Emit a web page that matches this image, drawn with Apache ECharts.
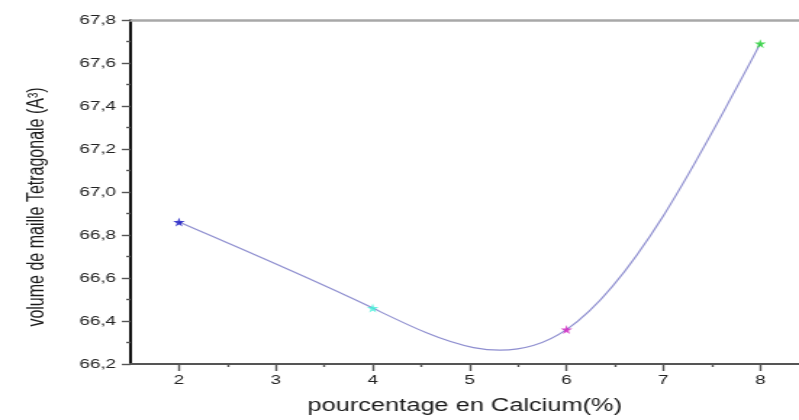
<!DOCTYPE html>
<html>
<head>
<meta charset="utf-8">
<script src="https://cdn.jsdelivr.net/npm/echarts@6/dist/echarts.min.js"></script>
<style>
  html, body { margin: 0; padding: 0; background: #fff; overflow: hidden; }
  /* the figure is laid out narrow and widened horizontally */
  #chart { width: 551px; height: 420px; transform: scaleX(1.4501); transform-origin: 0 0; }
</style>
</head>
<body>
<div id="chart"></div>
<script>
// Calcium content (%) and tetragonal cell volume (Å³)
const calcium = [2, 4, 6, 8];
const volume = [66.86, 66.46, 66.36, 67.69];
const xTicks = [2, 3, 4, 5, 6, 7, 8];
const xMinorTicks = [2.5, 3.5, 4.5, 5.5, 6.5, 7.5];

const markerColors = ['#1010c0', '#40f0d8', '#d020c0', '#20d030'];
const star = 'path://M50,0 L61,35 L98,35 L68,57 L79,91 L50,70 L21,91 L32,57 L2,35 L39,35 Z';
const comma = v => v.toFixed(1).replace('.', ',');
const font = 'Liberation Sans, Arial, sans-serif';

// Natural cubic spline through the measured points: second derivatives M,
// then end slopes of every segment so each piece is an exact cubic Bezier.
function splineSegments(xs, ys) {
  const n = xs.length;
  const h = [];
  for (let i = 0; i < n - 1; i++) h.push(xs[i + 1] - xs[i]);
  const M = new Array(n).fill(0);
  const m = n - 2;
  if (m > 0) {
    const a = [], b = [], c = [], r = [];
    for (let i = 1; i <= m; i++) {
      a.push(h[i - 1]);
      b.push(2 * (h[i - 1] + h[i]));
      c.push(h[i]);
      r.push(6 * ((ys[i + 1] - ys[i]) / h[i] - (ys[i] - ys[i - 1]) / h[i - 1]));
    }
    for (let i = 1; i < m; i++) {
      const w = a[i] / b[i - 1];
      b[i] -= w * c[i - 1];
      r[i] -= w * r[i - 1];
    }
    M[m] = r[m - 1] / b[m - 1];
    for (let i = m - 1; i >= 1; i--) M[i] = (r[i - 1] - c[i - 1] * M[i + 1]) / b[i - 1];
  }
  const segs = [];
  for (let i = 0; i < n - 1; i++) {
    const slope = (ys[i + 1] - ys[i]) / h[i];
    const d0 = slope - h[i] * (2 * M[i] + M[i + 1]) / 6;
    const d1 = slope + h[i] * (M[i] + 2 * M[i + 1]) / 6;
    segs.push({
      p0: [xs[i], ys[i]],
      c1: [xs[i] + h[i] / 3, ys[i] + d0 * h[i] / 3],
      c2: [xs[i + 1] - h[i] / 3, ys[i + 1] - d1 * h[i] / 3],
      p1: [xs[i + 1], ys[i + 1]]
    });
  }
  return segs;
}

const segments = splineSegments(calcium, volume);

const chart = echarts.init(document.getElementById('chart'), null, { renderer: 'canvas' });

const points = calcium.map((c, i) => ({
  value: [c, volume[i]],
  itemStyle: { color: markerColors[i] }
}));

const X_MIN = 1.5, X_MAX = 8.4;

chart.setOption({
  animation: false,
  backgroundColor: '#fff',
  grid: { left: 90, top: 20, right: 0, bottom: 51 },
  xAxis: [{
    type: 'value', min: X_MIN, max: X_MAX,
    name: 'pourcentage en Calcium(%)', nameLocation: 'middle', nameGap: 33,
    nameTextStyle: { fontFamily: font, fontSize: 17.5, color: '#1a1a1a' },
    axisLine: { show: true, onZero: false, lineStyle: { color: '#555', width: 2 } },
    axisTick: { show: true, length: 7, customValues: xTicks, lineStyle: { color: '#555', width: 1.4 } },
    axisLabel: { customValues: xTicks, fontFamily: font, fontSize: 13, color: '#222', margin: 10 },
    splitLine: { show: false }
  }, {
    type: 'value', min: X_MIN, max: X_MAX, position: 'bottom',
    axisLine: { show: false },
    axisTick: { show: true, length: 3, customValues: xMinorTicks, lineStyle: { color: '#555', width: 1.4 } },
    axisLabel: { show: false },
    splitLine: { show: false }
  }, {
    type: 'value', min: X_MIN, max: X_MAX, position: 'top',
    axisLine: { show: true, onZero: false, lineStyle: { color: '#a8a8a8', width: 2.5 } },
    axisTick: { show: false },
    axisLabel: { show: false },
    splitLine: { show: false }
  }],
  yAxis: {
    type: 'value', min: 66.2, max: 67.8, interval: 0.2,
    name: 'volume de maille Tetragonale (A³)', nameLocation: 'middle', nameGap: 56, nameRotate: 90,
    nameTextStyle: { fontFamily: font, fontSize: 16, color: '#1a1a1a', padding: [0, 30, 0, 0] },
    axisLine: { show: true, onZero: false, lineStyle: { color: '#111', width: 2 } },
    axisTick: { show: true, length: 6, lineStyle: { color: '#555', width: 1.4 } },
    minorTick: { show: true, splitNumber: 2, length: 3, lineStyle: { color: '#555', width: 1.4 } },
    axisLabel: { formatter: comma, fontFamily: font, fontSize: 13, color: '#222', margin: 10 },
    splitLine: { show: false }
  },
  series: [{
    type: 'custom',
    xAxisIndex: 0,
    yAxisIndex: 0,
    data: segments.map((s, i) => [calcium[i], volume[i]]),
    z: 2,
    renderItem: (params, api) => {
      const s = segments[params.dataIndex];
      const p0 = api.coord(s.p0), c1 = api.coord(s.c1), c2 = api.coord(s.c2), p1 = api.coord(s.p1);
      return {
        type: 'bezierCurve',
        shape: { x1: p0[0], y1: p0[1], cpx1: c1[0], cpy1: c1[1], cpx2: c2[0], cpy2: c2[1], x2: p1[0], y2: p1[1] },
        style: { stroke: '#8f8fd0', lineWidth: 1.2, fill: null }
      };
    }
  }, {
    type: 'scatter',
    xAxisIndex: 0,
    yAxisIndex: 0,
    data: points,
    z: 3,
    symbol: star,
    symbolSize: [8, 9]
  }]
});
</script>
</body>
</html>
